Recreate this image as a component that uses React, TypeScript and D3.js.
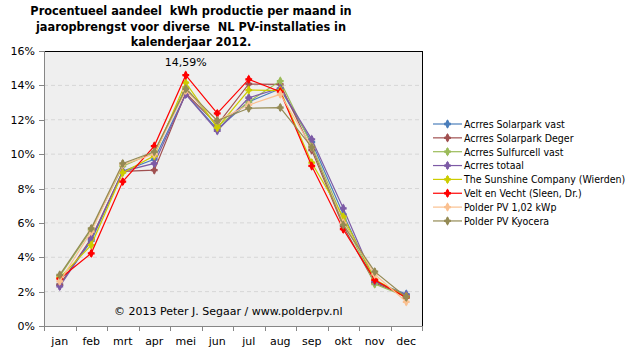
import * as d3 from 'd3';

const months = ['jan', 'feb', 'mrt', 'apr', 'mei', 'jun', 'jul', 'aug', 'sep', 'okt', 'nov', 'dec'];
const yTicks = [0, 2, 4, 6, 8, 10, 12, 14, 16];

const seriesNames = [
  'Acrres Solarpark vast',
  'Acrres Solarpark Deger',
  'Acrres Sulfurcell vast',
  'Acrres totaal',
  'The Sunshine Company (Wierden)',
  'Velt en Vecht (Sleen, Dr.)',
  'Polder PV 1,02 kWp',
  'Polder PV Kyocera',
];
const seriesColors = ['#4A7EBB', '#A05050', '#9BBB59', '#7D5BA6', '#CCCC00', '#FF0000', '#FAC090', '#948A54'];

const solarparkVast = [2.4, 4.95, 9.0, 9.7, 13.5, 11.45, 13.05, 13.8, 10.7, 6.5, 2.55, 1.86];
const solarparkDeger = [2.4, 5.1, 9.0, 9.07, 13.55, 11.7, 14.08, 14.06, 10.24, 5.8, 2.5, 1.75];
const sulfurcellVast = [2.9, 5.6, 9.3, 10.1, 13.9, 11.6, 13.05, 14.25, 10.5, 6.2, 2.44, 1.7];
const acrresTotaal = [2.3, 5.06, 9.0, 9.46, 13.48, 11.36, 13.28, 13.83, 10.86, 6.85, 2.6, 1.8];
const sunshine = [2.8, 4.71, 8.92, 9.9, 14.16, 11.54, 13.73, 13.7, 9.5, 6.36, 2.7, 1.7];
const veltEnVecht = [2.75, 4.23, 8.4, 10.47, 14.59, 12.37, 14.35, 13.63, 9.31, 5.63, 2.68, 1.65];
const polder102 = [2.6, 5.49, 9.4, 10.0, 13.7, 11.95, 12.86, 13.48, 10.4, 6.0, 3.0, 1.41];
const polderKyocera = [2.97, 5.68, 9.46, 10.14, 13.8, 11.95, 12.67, 12.71, 10.4, 5.88, 3.16, 1.67];

const seriesValues = [solarparkVast, solarparkDeger, sulfurcellVast, acrresTotaal, sunshine, veltEnVecht, polder102, polderKyocera];

const W = 631;
const H = 360;
const left = 44;
const right = 422;
const top = 51;
const bottom = 326;

const axisFont = "'DejaVu Sans', Verdana, sans-serif";
const legendFont = "'DejaVu Sans Condensed', Tahoma, sans-serif";

const diamond = d3.symbol(d3.symbolDiamond, 26)()!;
const cross = d3.symbol(d3.symbolCross, 26)()!;

function Marker({ x, y, color }: { x: number; y: number; color: string }) {
  return (
    <g transform={`translate(${x},${y})`}>
      <path d={diamond} fill={color} />
      <path d={cross} fill={color} />
    </g>
  );
}

export default function App() {
  const x = d3.scaleBand<string>().domain(months).range([left, right]);
  const y = d3.scaleLinear().domain([0, 16]).range([bottom, top]);
  const cx = (m: string) => (x(m) ?? 0) + x.bandwidth() / 2;
  const line = d3
    .line<number>()
    .x((_, i) => cx(months[i]))
    .y((d) => y(d));

  const peak = d3.max(veltEnVecht)!;
  const peakMonth = months[veltEnVecht.indexOf(peak)];

  return (
    <svg width={W} height={H} style={{ position: 'absolute', left: 0, top: 0, background: '#fff' }}>
      {/* title, double spaces kept as in the original */}
      <text
        fontFamily={legendFont}
        fontWeight="bold"
        fontSize={12.6}
        textAnchor="middle"
        fill="#000"
        style={{ whiteSpace: 'pre' }}
      >
        <tspan x={191} y={15}>Procentueel aandeel  kWh productie per maand in</tspan>
        <tspan x={191} y={30.5}>jaaropbrengst voor diverse  NL PV-installaties in</tspan>
        <tspan x={191} y={46}>kalenderjaar 2012.</tspan>
      </text>

      {/* plot area */}
      <rect x={left} y={top} width={right - left} height={bottom - top} fill="#EFEFEF" />
      {yTicks.slice(1, -1).map((t) => (
        <line key={t} x1={left} x2={right} y1={y(t)} y2={y(t)} stroke="#D6D6D6" strokeDasharray="4,3" />
      ))}
      <line x1={left} x2={right} y1={top + 0.5} y2={top + 0.5} stroke="#000" />
      <line x1={right + 0.5} x2={right + 0.5} y1={top} y2={bottom} stroke="#000" />

      {/* y axis */}
      <line x1={left + 0.5} x2={left + 0.5} y1={top} y2={bottom} stroke="#868686" />
      {yTicks.map((t) => (
        <g key={t}>
          <line x1={left - 5} x2={left} y1={Math.round(y(t)) + 0.5} y2={Math.round(y(t)) + 0.5} stroke="#868686" />
          <text x={35} y={y(t) + 4} textAnchor="end" fontFamily={axisFont} fontSize={11} fill="#000">
            {t}%
          </text>
        </g>
      ))}

      {/* x axis */}
      <line x1={left} x2={right} y1={bottom + 0.5} y2={bottom + 0.5} stroke="#868686" />
      {months.map((m, i) => (
        <g key={m}>
          <line
            x1={Math.round(x(m)!) + 0.5}
            x2={Math.round(x(m)!) + 0.5}
            y1={bottom}
            y2={bottom + 5}
            stroke="#868686"
          />
          {i === months.length - 1 && (
            <line x1={right + 0.5} x2={right + 0.5} y1={bottom} y2={bottom + 5} stroke="#868686" />
          )}
          <text x={cx(m)} y={bottom + 19} textAnchor="middle" fontFamily={axisFont} fontSize={11} fill="#000">
            {m}
          </text>
        </g>
      ))}

      {/* series */}
      {seriesValues.map((vals, si) => (
        <g key={seriesNames[si]}>
          <path d={line(vals) ?? ''} fill="none" stroke={seriesColors[si]} strokeWidth={1.2} />
          {vals.map((v, i) => (
            <Marker key={i} x={cx(months[i])} y={y(v)} color={seriesColors[si]} />
          ))}
        </g>
      ))}

      {/* peak label */}
      <text x={cx(peakMonth)} y={y(peak) - 9} textAnchor="middle" fontFamily={axisFont} fontSize={11} fill="#000">
        {peak.toFixed(2).replace('.', ',')}%
      </text>

      {/* copyright */}
      <text x={114} y={315} fontFamily={axisFont} fontSize={11} fill="#000">
        © 2013 Peter J. Segaar / www.polderpv.nl
      </text>

      {/* legend */}
      {seriesNames.map((name, i) => {
        const ly = 124 + i * 13.85;
        return (
          <g key={name}>
            <line x1={433} x2={462} y1={ly} y2={ly} stroke={seriesColors[i]} strokeWidth={1.2} />
            <Marker x={447.5} y={ly} color={seriesColors[i]} />
            <text x={464} y={ly + 3.8} fontFamily={legendFont} fontSize={10.5} fill="#000">
              {name}
            </text>
          </g>
        );
      })}
    </svg>
  );
}
